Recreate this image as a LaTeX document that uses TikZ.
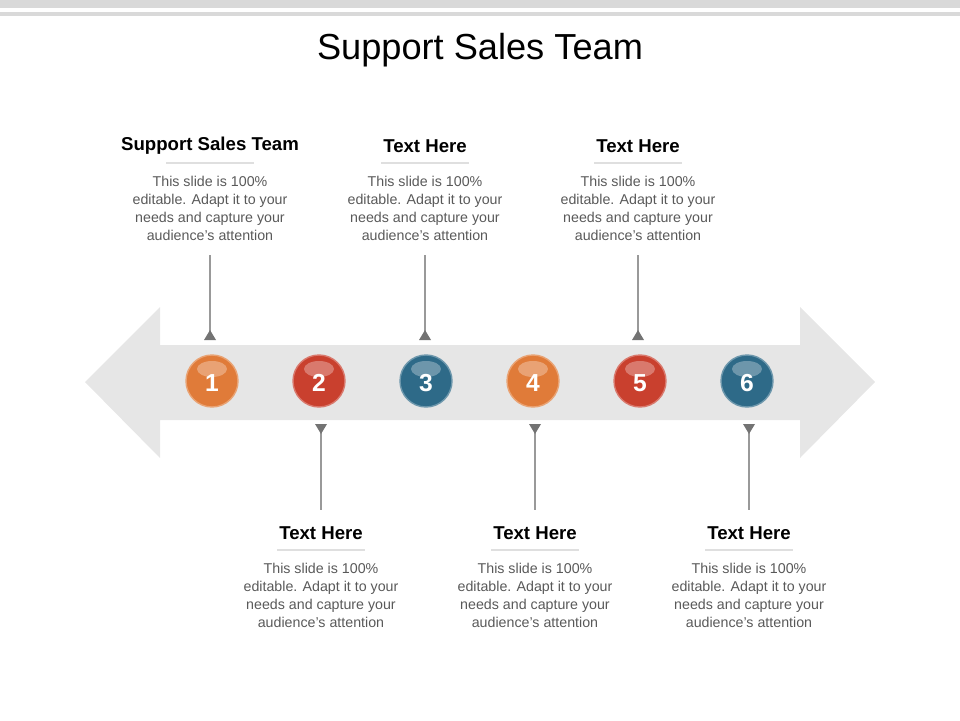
\documentclass[tikz,border=0pt]{standalone}
\usepackage{fontspec}
\setmainfont{Liberation Sans}
\definecolor{bandgray}{HTML}{E6E6E6}
\definecolor{orng}{HTML}{E07B39}
\definecolor{rust}{HTML}{C9402E}
\definecolor{teal}{HTML}{2E6A88}
\definecolor{bodytxt}{HTML}{595959}
\tikzset{
  ball/.style={circle,minimum size=52\px,inner sep=0pt,text=white,font=\fontsize{14}{14}\selectfont\bfseries},
  head/.style={font=\fontsize{10.6}{12}\selectfont\bfseries},
  blurb/.style={text=bodytxt,align=center,font=\fontsize{8.1}{10.2}\selectfont},
  stem/.style={draw=gray!80,line width=0.6pt},
  tip/.style={fill=gray!90!black}
}
\newlength{\px}\setlength{\px}{0.02cm}
\begin{document}
\begin{tikzpicture}[x=0.02cm,y=-0.02cm]
  \useasboundingbox (0,0) rectangle (960,720);
  % top rules
  \fill[gray!30] (0,0) rectangle (960,8);
  \fill[gray!30] (0,12) rectangle (960,16);
  \node (title) at (480,50) {\fontsize{20.6}{24}\selectfont Support Sales Team};
  % band arrow
  \fill[bandgray] (85,382) -- (160,307) -- (160,345) -- (800,345) -- (800,307)
    -- (875,382) -- (800,458) -- (800,420) -- (160,420) -- (160,458) -- cycle;
  % balls
  \foreach \i/\x/\c in {1/212/orng,2/319/rust,3/426/teal,4/533/orng,5/640/rust,6/747/teal}{
    \node[ball,fill=\c,draw=\c!70!white,line width=0.8pt] (b\i) at (\x,381) {};
    \fill[white,opacity=0.3] (\x,369) ellipse (15 and 8);
    \node[ball] at (\x,383) {\i};
  }
  % upper notes
  \foreach \i/\x/\t in {1/210/Support Sales Team,3/425/Text Here,5/638/Text Here}{
    \node[head] (h\i) at (\x,146) {\t};
    \draw[gray!25,line width=1.2pt] (\x-44,163) -- (\x+44,163);
    \node[blurb,anchor=north] (t\i) at (\x,170) {This slide is 100\%\\editable. Adapt it to your\\needs and capture your\\audience's attention};
    \coordinate (s\i) at (\x,255);
    \coordinate (e\i) at (\x,332);
    \draw[stem] (s\i) -- (e\i);
    \fill[tip] (\x-6,340) -- (\x+6,340) -- (\x,330) -- cycle;
  }
  % lower notes
  \foreach \i/\x in {2/321,4/535,6/749}{
    \node[head] (h\i) at (\x,533) {Text Here};
    \draw[gray!25,line width=1.2pt] (\x-44,550) -- (\x+44,550);
    \node[blurb,anchor=north] (t\i) at (\x,557) {This slide is 100\%\\editable. Adapt it to your\\needs and capture your\\audience's attention};
    \coordinate (s\i) at (\x,432);
    \coordinate (e\i) at (\x,510);
    \draw[stem] (s\i) -- (e\i);
    \fill[tip] (\x-6,424) -- (\x+6,424) -- (\x,434) -- cycle;
  }
\end{tikzpicture}
\end{document}
